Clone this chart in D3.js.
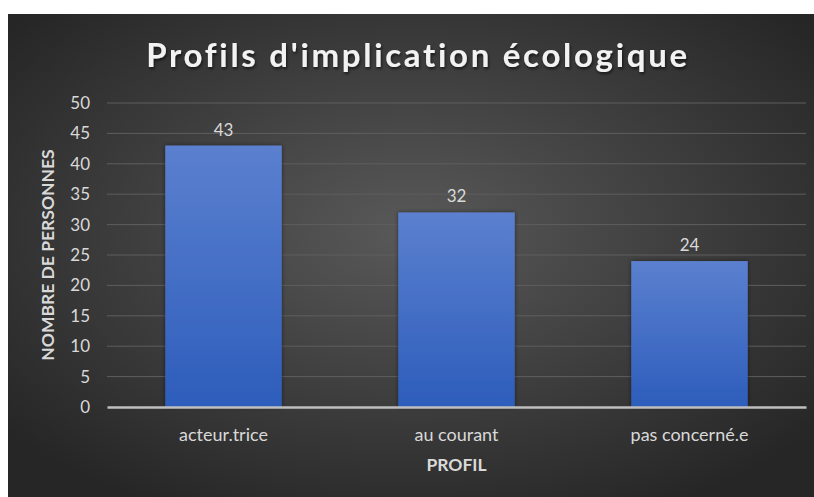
<!DOCTYPE html>
<html>
<head>
<meta charset="utf-8">
<script src="https://cdn.jsdelivr.net/npm/d3@7"></script>
<style>
  html, body { margin: 0; padding: 0; background: #ffffff; }
  svg { display: block; font-family: Lato, "Open Sans", sans-serif; }
</style>
</head>
<body>
<div id="chart"></div>
<script>
// Données du graphique
const categories = ["acteur.trice", "au courant", "pas concerné.e"];
const valeurs = [43, 32, 24];
const yTicks = [0, 5, 10, 15, 20, 25, 30, 35, 40, 45, 50];
const titre = "Profils d'implication écologique";
const titreY = "NOMBRE DE PERSONNES";
const titreX = "PROFIL";

const width = 814;
const height = 497;
const margin = { top: 103, right: 8, bottom: 90, left: 107 };

const svg = d3.select("#chart").append("svg")
    .attr("width", width)
    .attr("height", height);

const defs = svg.append("defs");

// Fond en dégradé radial
const bg = defs.append("radialGradient")
    .attr("id", "bg")
    .attr("cx", "50%").attr("cy", "45%").attr("r", "65%");
bg.append("stop").attr("offset", "0%").attr("stop-color", "#595959");
bg.append("stop").attr("offset", "100%").attr("stop-color", "#262626");

// Dégradé des barres
const barGrad = defs.append("linearGradient")
    .attr("id", "barGrad")
    .attr("x1", 0).attr("y1", 0).attr("x2", 0).attr("y2", 1);
barGrad.append("stop").attr("offset", "0%").attr("stop-color", "#5b80cf");
barGrad.append("stop").attr("offset", "100%").attr("stop-color", "#2d5dbb");

const shadow = defs.append("filter").attr("id", "ombre")
    .attr("x", "-20%").attr("y", "-20%").attr("width", "140%").attr("height", "140%");
shadow.append("feDropShadow")
    .attr("dx", 0).attr("dy", 0).attr("stdDeviation", 2)
    .attr("flood-color", "#000").attr("flood-opacity", 0.5);

const txtShadow = defs.append("filter").attr("id", "ombreTexte");
txtShadow.append("feDropShadow")
    .attr("dx", 1).attr("dy", 2).attr("stdDeviation", 1.5)
    .attr("flood-color", "#000").attr("flood-opacity", 0.6);

svg.append("rect")
    .attr("x", 8).attr("y", 14)
    .attr("width", width - 8).attr("height", height - 14)
    .attr("fill", "url(#bg)");

// Échelles
const x = d3.scaleBand()
    .domain(categories)
    .range([margin.left, 806])
    .paddingInner(0.5)
    .paddingOuter(0.25);

const y = d3.scaleLinear()
    .domain([0, 50])
    .range([407, margin.top]);

// Grille horizontale
svg.append("g")
    .selectAll("line")
    .data(yTicks.filter(d => d > 0))
    .join("line")
    .attr("x1", margin.left)
    .attr("x2", 806)
    .attr("y1", d => y(d))
    .attr("y2", d => y(d))
    .attr("stroke", "#5e5e5e")
    .attr("stroke-width", 1);

// Axe Y
const axeY = svg.append("g")
    .attr("transform", `translate(${margin.left - 14},0)`)
    .call(d3.axisLeft(y).tickValues(yTicks).tickSize(0).tickPadding(3))
    .call(g => g.select(".domain").remove());
axeY.selectAll("text")
    .attr("fill", "#d9d9d9")
    .style("font-size", "17px")
    .style("font-family", "Lato, sans-serif");

// Barres
svg.append("g")
    .selectAll("rect")
    .data(valeurs)
    .join("rect")
    .attr("x", (d, i) => x(categories[i]))
    .attr("y", d => y(d))
    .attr("width", x.bandwidth())
    .attr("height", d => y(0) - y(d))
    .attr("fill", "url(#barGrad)")
    .attr("filter", "url(#ombre)");

// Étiquettes de valeurs
svg.append("g")
    .selectAll("text")
    .data(valeurs)
    .join("text")
    .attr("x", (d, i) => x(categories[i]) + x.bandwidth() / 2)
    .attr("y", d => y(d) - 10)
    .attr("text-anchor", "middle")
    .attr("fill", "#d9d9d9")
    .style("font-size", "17px")
    .text(d => d);

// Axe X
const axeX = svg.append("g")
    .attr("transform", `translate(0,${y(0)})`)
    .call(d3.axisBottom(x).tickSize(0).tickPadding(21));
axeX.select(".domain")
    .attr("stroke", "#bfbfbf")
    .attr("stroke-width", 2.5);
axeX.selectAll("text")
    .attr("fill", "#d9d9d9")
    .style("font-size", "18px")
    .style("font-family", "Lato, sans-serif");

// Titres
svg.append("text")
    .attr("x", 418)
    .attr("y", 67)
    .attr("text-anchor", "middle")
    .attr("fill", "#f2f2f2")
    .attr("filter", "url(#ombreTexte)")
    .style("font-size", "33px")
    .style("font-weight", "bold")
    .style("letter-spacing", "2.7px")
    .text(titre);

svg.append("text")
    .attr("transform", "translate(54,255) rotate(-90)")
    .attr("text-anchor", "middle")
    .attr("fill", "#d9d9d9")
    .style("font-size", "17.5px")
    .style("font-weight", "bold")
    .text(titreY);

svg.append("text")
    .attr("x", x("au courant") + x.bandwidth() / 2)
    .attr("y", 471)
    .attr("text-anchor", "middle")
    .attr("fill", "#d9d9d9")
    .style("font-size", "17.5px")
    .style("font-weight", "bold")
    .text(titreX);
</script>
</body>
</html>
